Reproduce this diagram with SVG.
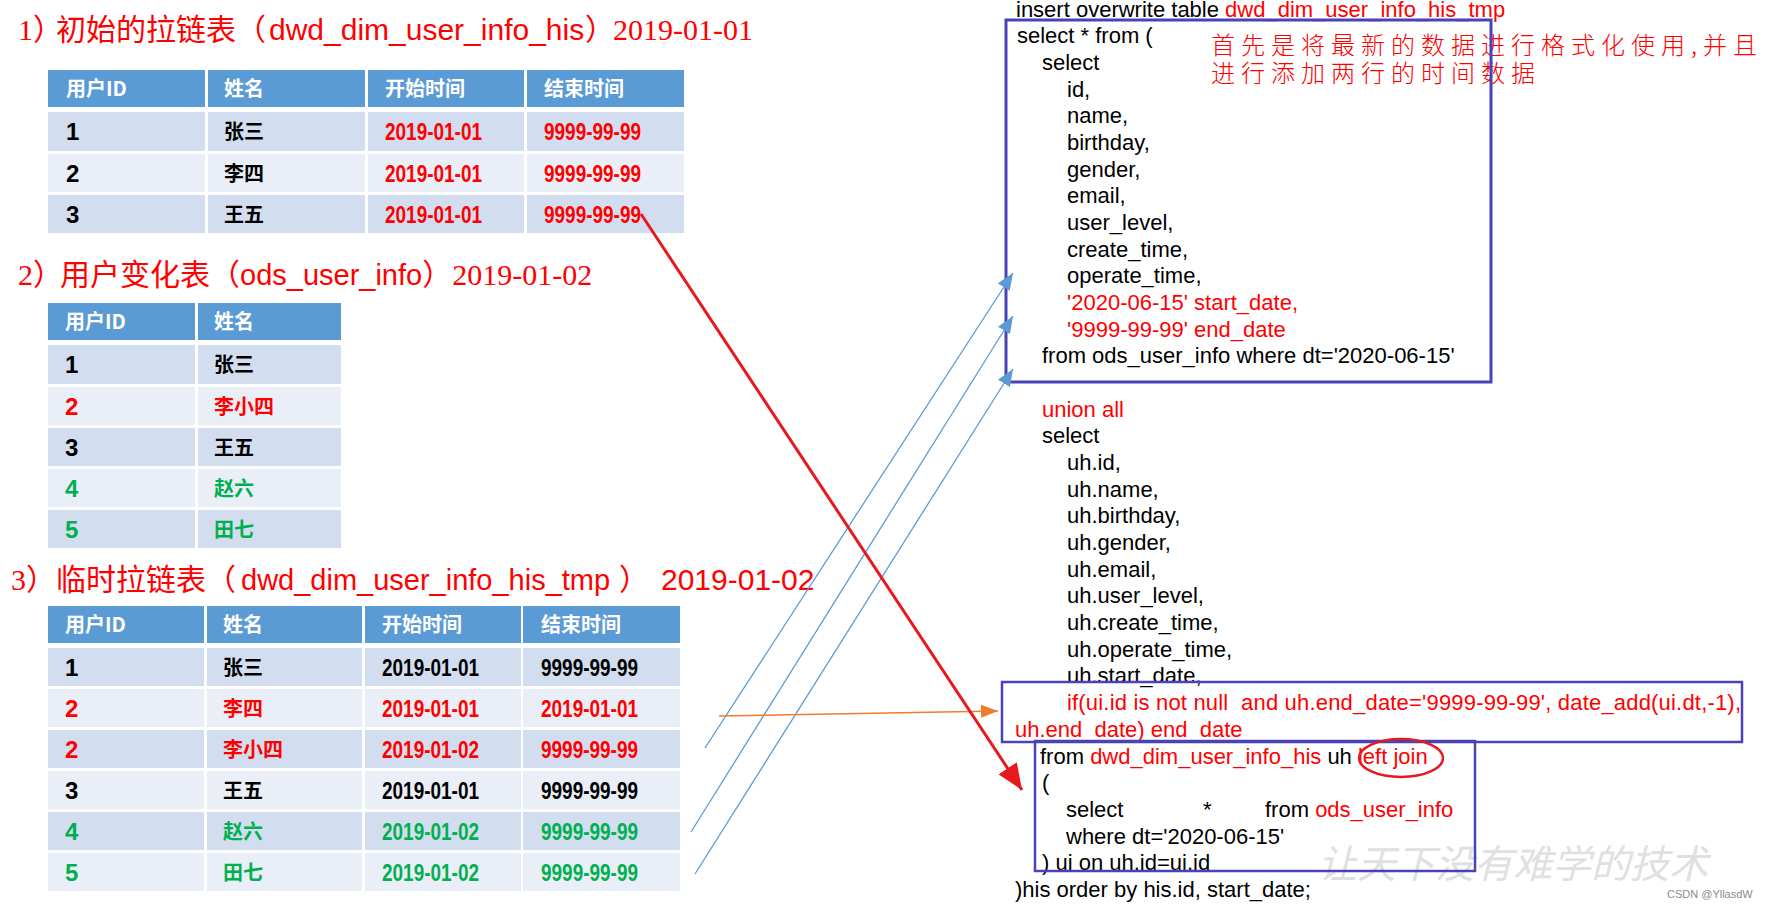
<svg xmlns="http://www.w3.org/2000/svg" width="1765" height="907" viewBox="0 0 1765 907">
<style>
  .title{font-size:30px;fill:#FF0000}
  .cjk{font-family:"Noto Sans CJK SC",sans-serif}
  .serif{font-family:"Liberation Serif","Noto Sans CJK SC",serif}
  .sans{font-family:"Liberation Sans","Noto Sans CJK SC",sans-serif}
  .hd{fill:#5B9BD5}
  .dk{fill:#D2DEEF}
  .lt{fill:#EAEFF7}
  .th{font-family:"Noto Sans CJK SC",sans-serif;font-weight:bold;font-size:20px;fill:#FFFFFF}
  .cn{font-family:"Noto Sans CJK SC",sans-serif;font-weight:bold;font-size:20px}
  .num{font-family:"Liberation Sans Narrow","Liberation Sans",sans-serif;font-weight:bold;font-size:24px}
  .code{font-family:"Liberation Sans",sans-serif;font-size:22px;fill:#000000}
  .k{fill:#000000}
  .r{fill:#FF0000}
  .g{fill:#00B050}
  .box{fill:none;stroke:#4943B5;stroke-width:3}
  .note{font-family:"Noto Sans CJK SC",sans-serif;font-size:24px;font-weight:300;letter-spacing:6px;fill:#FF0000}
</style>
<defs>
  <marker id="ahRed" markerUnits="userSpaceOnUse" markerWidth="28" markerHeight="22" refX="26" refY="11" orient="auto"><path d="M0,0 L26,11 L0,22 Z" fill="#E8191E"/></marker>
  <marker id="ahBlue" markerUnits="userSpaceOnUse" markerWidth="18" markerHeight="14" refX="17" refY="7" orient="auto"><path d="M0,0 L17,7 L0,14 Z" fill="#5B9BD5"/></marker>
  <marker id="ahOrange" markerUnits="userSpaceOnUse" markerWidth="18" markerHeight="14" refX="17" refY="7" orient="auto"><path d="M0,0.5 L17,7 L0,13.5 Z" fill="#ED7D31"/></marker>
</defs>
<rect x="0" y="0" width="1765" height="907" fill="#FFFFFF"/>

<!-- Title 1 -->
<g id="title1">
  <text class="title" x="18" y="40"><tspan class="serif">1</tspan><tspan class="cjk" style="letter-spacing:-7px">）</tspan><tspan class="cjk">初始的拉链表（</tspan><tspan class="sans" x="269">dwd_dim_user_info_his</tspan><tspan class="cjk" x="585" style="letter-spacing:-2px">）</tspan><tspan class="serif">2019-01-01</tspan></text>
</g>

<!-- Table 1 -->
<g id="table1">
  <rect class="hd" x="48" y="70" width="157" height="37"/><rect class="hd" x="208" y="70" width="157" height="37"/><rect class="hd" x="368" y="70" width="156" height="37"/><rect class="hd" x="527" y="70" width="157" height="37"/>
  <rect class="dk" x="48" y="112" width="157" height="39"/><rect class="dk" x="208" y="112" width="157" height="39"/><rect class="dk" x="368" y="112" width="156" height="39"/><rect class="dk" x="527" y="112" width="157" height="39"/>
  <rect class="lt" x="48" y="154" width="157" height="38"/><rect class="lt" x="208" y="154" width="157" height="38"/><rect class="lt" x="368" y="154" width="156" height="38"/><rect class="lt" x="527" y="154" width="157" height="38"/>
  <rect class="dk" x="48" y="195" width="157" height="38"/><rect class="dk" x="208" y="195" width="157" height="38"/><rect class="dk" x="368" y="195" width="156" height="38"/><rect class="dk" x="527" y="195" width="157" height="38"/>
  <text class="th" x="66" y="96">用户ID</text><text class="th" x="224" y="96">姓名</text><text class="th" x="385" y="96">开始时间</text><text class="th" x="544" y="96">结束时间</text>
  <text class="num k" x="66" y="140">1</text><text class="cn k" x="224" y="139">张三</text><text class="num r" x="385" y="140" textLength="97" lengthAdjust="spacingAndGlyphs">2019-01-01</text><text class="num r" x="544" y="140" textLength="97" lengthAdjust="spacingAndGlyphs">9999-99-99</text>
  <text class="num k" x="66" y="182">2</text><text class="cn k" x="224" y="181">李四</text><text class="num r" x="385" y="182" textLength="97" lengthAdjust="spacingAndGlyphs">2019-01-01</text><text class="num r" x="544" y="182" textLength="97" lengthAdjust="spacingAndGlyphs">9999-99-99</text>
  <text class="num k" x="66" y="223">3</text><text class="cn k" x="224" y="222">王五</text><text class="num r" x="385" y="223" textLength="97" lengthAdjust="spacingAndGlyphs">2019-01-01</text><text class="num r" x="544" y="223" textLength="97" lengthAdjust="spacingAndGlyphs">9999-99-99</text>
</g>

<!-- Title 2 -->
<g id="title2">
  <text class="title" x="18" y="285"><tspan class="serif">2</tspan><tspan class="cjk" style="letter-spacing:-3px">）</tspan><tspan class="cjk">用户变化表（</tspan><tspan class="sans" x="240" style="font-size:29px">ods_user_info</tspan><tspan class="cjk">）</tspan><tspan class="serif">2019-01-02</tspan></text>
</g>

<!-- Table 2 -->
<g id="table2">
  <rect class="hd" x="48" y="303" width="147" height="37"/><rect class="hd" x="198" y="303" width="143" height="37"/>
  <rect class="dk" x="48" y="345" width="147" height="39"/><rect class="dk" x="198" y="345" width="143" height="39"/>
  <rect class="lt" x="48" y="387" width="147" height="38"/><rect class="lt" x="198" y="387" width="143" height="38"/>
  <rect class="dk" x="48" y="428" width="147" height="38"/><rect class="dk" x="198" y="428" width="143" height="38"/>
  <rect class="lt" x="48" y="469" width="147" height="38"/><rect class="lt" x="198" y="469" width="143" height="38"/>
  <rect class="dk" x="48" y="510" width="147" height="38"/><rect class="dk" x="198" y="510" width="143" height="38"/>
  <text class="th" x="65" y="329">用户ID</text><text class="th" x="214" y="329">姓名</text>
  <text class="num k" x="65" y="373">1</text><text class="cn k" x="214" y="372">张三</text>
  <text class="num r" x="65" y="415">2</text><text class="cn r" x="214" y="414">李小四</text>
  <text class="num k" x="65" y="456">3</text><text class="cn k" x="214" y="455">王五</text>
  <text class="num g" x="65" y="497">4</text><text class="cn g" x="214" y="496">赵六</text>
  <text class="num g" x="65" y="538">5</text><text class="cn g" x="214" y="537">田七</text>
</g>

<!-- Title 3 -->
<g id="title3">
  <text class="title" x="11" y="590"><tspan class="serif">3</tspan><tspan class="cjk">）</tspan><tspan class="cjk">临时拉链表（</tspan><tspan class="sans" x="241" style="font-size:29px">dwd_dim_user_info_his_tmp</tspan><tspan class="cjk" x="619">）</tspan><tspan class="sans" x="661">2019-01-02</tspan></text>
</g>

<!-- Table 3 -->
<g id="table3">
  <rect class="hd" x="48" y="606" width="156" height="37"/><rect class="hd" x="207" y="606" width="155" height="37"/><rect class="hd" x="365" y="606" width="156" height="37"/><rect class="hd" x="523" y="606" width="157" height="37"/>
  <rect class="dk" x="48" y="648" width="156" height="38"/><rect class="dk" x="207" y="648" width="155" height="38"/><rect class="dk" x="365" y="648" width="156" height="38"/><rect class="dk" x="523" y="648" width="157" height="38"/>
  <rect class="lt" x="48" y="689" width="156" height="38"/><rect class="lt" x="207" y="689" width="155" height="38"/><rect class="lt" x="365" y="689" width="156" height="38"/><rect class="lt" x="523" y="689" width="157" height="38"/>
  <rect class="dk" x="48" y="730" width="156" height="38"/><rect class="dk" x="207" y="730" width="155" height="38"/><rect class="dk" x="365" y="730" width="156" height="38"/><rect class="dk" x="523" y="730" width="157" height="38"/>
  <rect class="lt" x="48" y="771" width="156" height="38"/><rect class="lt" x="207" y="771" width="155" height="38"/><rect class="lt" x="365" y="771" width="156" height="38"/><rect class="lt" x="523" y="771" width="157" height="38"/>
  <rect class="dk" x="48" y="812" width="156" height="38"/><rect class="dk" x="207" y="812" width="155" height="38"/><rect class="dk" x="365" y="812" width="156" height="38"/><rect class="dk" x="523" y="812" width="157" height="38"/>
  <rect class="lt" x="48" y="853" width="156" height="38"/><rect class="lt" x="207" y="853" width="155" height="38"/><rect class="lt" x="365" y="853" width="156" height="38"/><rect class="lt" x="523" y="853" width="157" height="38"/>
  <text class="th" x="65" y="632">用户ID</text><text class="th" x="223" y="632">姓名</text><text class="th" x="382" y="632">开始时间</text><text class="th" x="541" y="632">结束时间</text>
  <text class="num k" x="65" y="676">1</text><text class="cn k" x="223" y="675">张三</text><text class="num k" x="382" y="676" textLength="97" lengthAdjust="spacingAndGlyphs">2019-01-01</text><text class="num k" x="541" y="676" textLength="97" lengthAdjust="spacingAndGlyphs">9999-99-99</text>
  <text class="num r" x="65" y="717">2</text><text class="cn r" x="223" y="716">李四</text><text class="num r" x="382" y="717" textLength="97" lengthAdjust="spacingAndGlyphs">2019-01-01</text><text class="num r" x="541" y="717" textLength="97" lengthAdjust="spacingAndGlyphs">2019-01-01</text>
  <text class="num r" x="65" y="758">2</text><text class="cn r" x="223" y="757">李小四</text><text class="num r" x="382" y="758" textLength="97" lengthAdjust="spacingAndGlyphs">2019-01-02</text><text class="num r" x="541" y="758" textLength="97" lengthAdjust="spacingAndGlyphs">9999-99-99</text>
  <text class="num k" x="65" y="799">3</text><text class="cn k" x="223" y="798">王五</text><text class="num k" x="382" y="799" textLength="97" lengthAdjust="spacingAndGlyphs">2019-01-01</text><text class="num k" x="541" y="799" textLength="97" lengthAdjust="spacingAndGlyphs">9999-99-99</text>
  <text class="num g" x="65" y="840">4</text><text class="cn g" x="223" y="839">赵六</text><text class="num g" x="382" y="840" textLength="97" lengthAdjust="spacingAndGlyphs">2019-01-02</text><text class="num g" x="541" y="840" textLength="97" lengthAdjust="spacingAndGlyphs">9999-99-99</text>
  <text class="num g" x="65" y="881">5</text><text class="cn g" x="223" y="880">田七</text><text class="num g" x="382" y="881" textLength="97" lengthAdjust="spacingAndGlyphs">2019-01-02</text><text class="num g" x="541" y="881" textLength="97" lengthAdjust="spacingAndGlyphs">9999-99-99</text>
</g>

<!-- SQL code -->
<g id="code">
  <text class="code" x="1016" y="16.7">insert overwrite table <tspan class="r">dwd_dim_user_info_his_tmp</tspan></text>
  <text class="code" x="1017" y="43.4">select * from (</text>
  <text class="code" x="1042" y="70">select</text>
  <text class="code" x="1067" y="96.7">id,</text>
  <text class="code" x="1067" y="123.4">name,</text>
  <text class="code" x="1067" y="150.1">birthday,</text>
  <text class="code" x="1067" y="176.7">gender,</text>
  <text class="code" x="1067" y="203.4">email,</text>
  <text class="code" x="1067" y="230.1">user_level,</text>
  <text class="code" x="1067" y="256.7">create_time,</text>
  <text class="code" x="1067" y="283.4">operate_time,</text>
  <text class="code r" x="1067" y="310.1">'2020-06-15' start_date,</text>
  <text class="code r" x="1067" y="336.7">'9999-99-99' end_date</text>
  <text class="code" x="1042" y="363.4">from ods_user_info where dt='2020-06-15'</text>
  <text class="code r" x="1042" y="416.7">union all</text>
  <text class="code" x="1042" y="443.4">select</text>
  <text class="code" x="1067" y="470.1">uh.id,</text>
  <text class="code" x="1067" y="496.8">uh.name,</text>
  <text class="code" x="1067" y="523.4">uh.birthday,</text>
  <text class="code" x="1067" y="550.1">uh.gender,</text>
  <text class="code" x="1067" y="576.8">uh.email,</text>
  <text class="code" x="1067" y="603.4">uh.user_level,</text>
  <text class="code" x="1067" y="630.1">uh.create_time,</text>
  <text class="code" x="1067" y="656.8">uh.operate_time,</text>
  <text class="code" x="1067" y="683.4">uh.start_date,</text>
  <text class="code r" x="1067" y="710.1" xml:space="preserve" textLength="674">if(ui.id is not null  and uh.end_date='9999-99-99', date_add(ui.dt,-1),</text>
  <text class="code r" x="1015" y="736.8">uh.end_date) end_date</text>
  <text class="code" x="1040" y="763.5">from <tspan class="r">dwd_dim_user_info_his</tspan> uh <tspan class="r">left join</tspan></text>
  <text class="code" x="1042" y="790.1">(</text>
  <text class="code" y="816.8"><tspan x="1066">select</tspan><tspan x="1203">*</tspan><tspan x="1265">from </tspan><tspan class="r">ods_user_info</tspan></text>
  <text class="code" x="1066" y="843.5">where dt='2020-06-15'</text>
  <text class="code" x="1042" y="870.1">) ui on uh.id=ui.id</text>
  <text class="code" x="1015" y="896.8">)his order by his.id, start_date;</text>
</g>

<!-- Annotation -->
<g id="note">
  <text class="note" y="54"><tspan x="1211">首先是将最新的数据进行格式化使用,并且</tspan><tspan x="1211" dy="28">进行添加两行的时间数据</tspan></text>
</g>

<!-- Watermark -->
<g id="watermark">
  <text x="1318" y="878" style="font-family:'Noto Sans CJK SC',sans-serif;font-size:39px;font-style:italic;fill:#E0E0E0">让天下没有难学的技术</text>
  <text x="1667" y="898" style="font-family:'Liberation Sans',sans-serif;font-size:11px;fill:#8C8C8C">CSDN @YllasdW</text>
</g>

<!-- Highlight boxes -->
<g id="boxes">
  <rect id="box-select" class="box" x="1006" y="20" width="485" height="362"/>
  <rect id="box-if" class="box" x="1002" y="682" width="740" height="60" style="stroke-width:2.5"/>
  <rect id="box-join" class="box" x="1035" y="741" width="440" height="130" style="stroke-width:2.5"/>
  <ellipse id="circle-leftjoin" cx="1401" cy="758" rx="42" ry="19" fill="none" stroke="#E8191E" stroke-width="2.5"/>
</g>

<!-- Connectors -->
<g id="connectors">
  <line x1="705" y1="748" x2="1013" y2="273" stroke="#5B9BD5" stroke-width="1.3" marker-end="url(#ahBlue)"/>
  <line x1="691" y1="832" x2="1013" y2="316" stroke="#5B9BD5" stroke-width="1.3" marker-end="url(#ahBlue)"/>
  <line x1="695" y1="874" x2="1013" y2="369" stroke="#5B9BD5" stroke-width="1.3" marker-end="url(#ahBlue)"/>
  <line x1="719" y1="716" x2="998" y2="711" stroke="#ED7D31" stroke-width="1.6" marker-end="url(#ahOrange)"/>
  <line x1="641" y1="214" x2="1022" y2="790" stroke="#E8191E" stroke-width="3" marker-end="url(#ahRed)"/>
</g>
</svg>
